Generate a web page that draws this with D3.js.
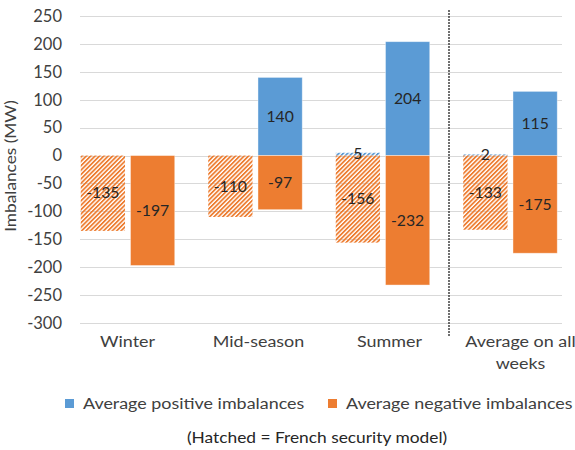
<!DOCTYPE html>
<html>
<head>
<meta charset="utf-8">
<script src="https://cdn.jsdelivr.net/npm/d3@7"></script>
<style>
  html, body { margin: 0; padding: 0; background: #fff; overflow: hidden; }
  svg { display: block; font-family: Lato, "Open Sans", sans-serif; }
</style>
</head>
<body>
<svg id="chart" width="575" height="450"></svg>
<script>
// Seasonal imbalance averages (MW)
const categories = ["Winter", "Mid-season", "Summer", "Average on all weeks"];
// Solid columns: current model
const positiveValues = [null, 140, 204, 115];
const negativeValues = [-197, -97, -232, -175];
// Hatched columns: French security model
const hatchedPositive = [null, null, 5, 2];
const hatchedNegative = [-135, -110, -156, -133];
const yTicks = [250, 200, 150, 100, 50, 0, -50, -100, -150, -200, -250, -300];

const colBlue = "#5B9BD5";
const colOrange = "#ED7D31";
const textCol = "#404040";
const wide = 1.12; // horizontal stretch applied to text

const svg = d3.select("#chart");
const defs = svg.append("defs");
function hatch(id, color) {
  const p = defs.append("pattern")
    .attr("id", id)
    .attr("patternUnits", "userSpaceOnUse")
    .attr("width", 3.1).attr("height", 3.1)
    .attr("patternTransform", "rotate(45)");
  p.append("rect").attr("x", 0).attr("y", 0).attr("width", 1.75).attr("height", 3.1).attr("fill", color);
}
hatch("hatchOrange", colOrange);
hatch("hatchBlue", colBlue);

// Place a text element at (x, y) with the horizontal stretch
function placeText(sel, x, y, sx) {
  return sel.attr("transform", `translate(${x},${y}) scale(${sx},1)`);
}

const plotLeft = 80, plotRight = 562;
const y = d3.scaleLinear().domain([-300, 250]).range([323, 16]);

// Category slots for the column pairs
const x = d3.scaleBand().domain(categories).range([64, 574]);
const sub = d3.scaleBand().domain(["hatched", "solid"]).range([-47, 47]).paddingInner(0.11);

// Category label positions
const xLabel = d3.scaleBand().domain(categories).range([62, 586]);

// Gridlines
svg.append("g").selectAll("line").data(yTicks).join("line")
  .attr("x1", plotLeft).attr("x2", plotRight)
  .attr("y1", d => Math.round(y(d)) + 0.5).attr("y2", d => Math.round(y(d)) + 0.5)
  .attr("stroke", "#D9D9D9").attr("stroke-width", 1);

// Y axis tick labels
const yAxis = d3.axisLeft(y).tickValues(yTicks).tickFormat(d => String(d)).tickSize(0).tickPadding(0);
const gy = svg.append("g").attr("transform", "translate(62,0)").call(yAxis);
gy.select(".domain").remove();
gy.selectAll("text").attr("font-size", 16.5).attr("fill", textCol)
  .attr("font-family", "Lato, 'Open Sans', sans-serif");

// Y axis title
svg.append("text")
  .attr("transform", `translate(16,166) rotate(-90) scale(1.08,1)`)
  .attr("text-anchor", "middle").attr("font-size", 16).attr("fill", textCol)
  .text("Imbalances (MW)");

// Separator before the overall average
const sepX = (x("Summer") + x.bandwidth() + x("Average on all weeks")) / 2 + 2.5;
svg.append("line")
  .attr("x1", sepX).attr("x2", sepX).attr("y1", 10).attr("y2", 336)
  .attr("stroke", "#333333").attr("stroke-width", 1.4).attr("stroke-dasharray", "2,1");

const rows = categories.map((c, i) => ({
  c, pos: positiveValues[i], neg: negativeValues[i],
  hpos: hatchedPositive[i], hneg: hatchedNegative[i]
}));

const bars = [];
rows.forEach(r => {
  const cx = x(r.c) + x.bandwidth() / 2;
  if (r.hpos != null) bars.push({ cx, kind: "hatched", v: r.hpos, fill: "url(#hatchBlue)", solid: false });
  if (r.hneg != null) bars.push({ cx, kind: "hatched", v: r.hneg, fill: "url(#hatchOrange)", solid: false });
  if (r.pos != null) bars.push({ cx, kind: "solid", v: r.pos, fill: colBlue, solid: true });
  if (r.neg != null) bars.push({ cx, kind: "solid", v: r.neg, fill: colOrange, solid: true });
});

svg.append("g").selectAll("rect").data(bars).join("rect")
  .attr("x", d => d.cx + sub(d.kind))
  .attr("width", sub.bandwidth())
  .attr("y", d => y(Math.max(0, d.v)))
  .attr("height", d => Math.abs(y(d.v) - y(0)))
  .attr("fill", d => d.fill)
  .attr("stroke", d => d.solid ? "#ffffff" : "none")
  .attr("stroke-opacity", 0.5)
  .attr("stroke-width", 0.8);

// Value labels centred in each column
svg.append("g").selectAll("text").data(bars).join("text")
  .each(function(d) {
    placeText(d3.select(this), d.cx + sub(d.kind) + sub.bandwidth() / 2, (y(d.v) + y(0)) / 2, 1.05);
  })
  .attr("dy", "0.35em")
  .attr("text-anchor", "middle").attr("font-size", 15).attr("fill", "#262626")
  .text(d => d.v);

// Category labels, wrapping long names
const xAxisG = svg.append("g");
categories.forEach(c => {
  const cx = xLabel(c) + xLabel.bandwidth() / 2;
  const lines = c === "Average on all weeks" ? ["Average on all", "weeks"] : [c];
  lines.forEach((t, j) => {
    placeText(xAxisG.append("text"), cx, 347 + j * 22, wide)
      .attr("text-anchor", "middle").attr("font-size", 16).attr("fill", textCol)
      .text(t);
  });
});

// Legend
const legend = [
  { label: "Average positive imbalances", color: colBlue, x: 65 },
  { label: "Average negative imbalances", color: colOrange, x: 328 }
];
const lg = svg.append("g").selectAll("g").data(legend).join("g")
  .attr("transform", d => `translate(${d.x},399)`);
lg.append("rect").attr("width", 9).attr("height", 9).attr("fill", d => d.color);
lg.append("text")
  .each(function() { placeText(d3.select(this), 18, 4.5, wide); })
  .attr("dy", "0.35em")
  .attr("font-size", 16).attr("fill", textCol).text(d => d.label);

placeText(svg.append("text"), 317, 438, 1.12)
  .attr("dy", "0.35em")
  .attr("text-anchor", "middle").attr("font-size", 15.5).attr("fill", "#262626")
  .text("(Hatched = French security model)");
</script>
</body>
</html>
